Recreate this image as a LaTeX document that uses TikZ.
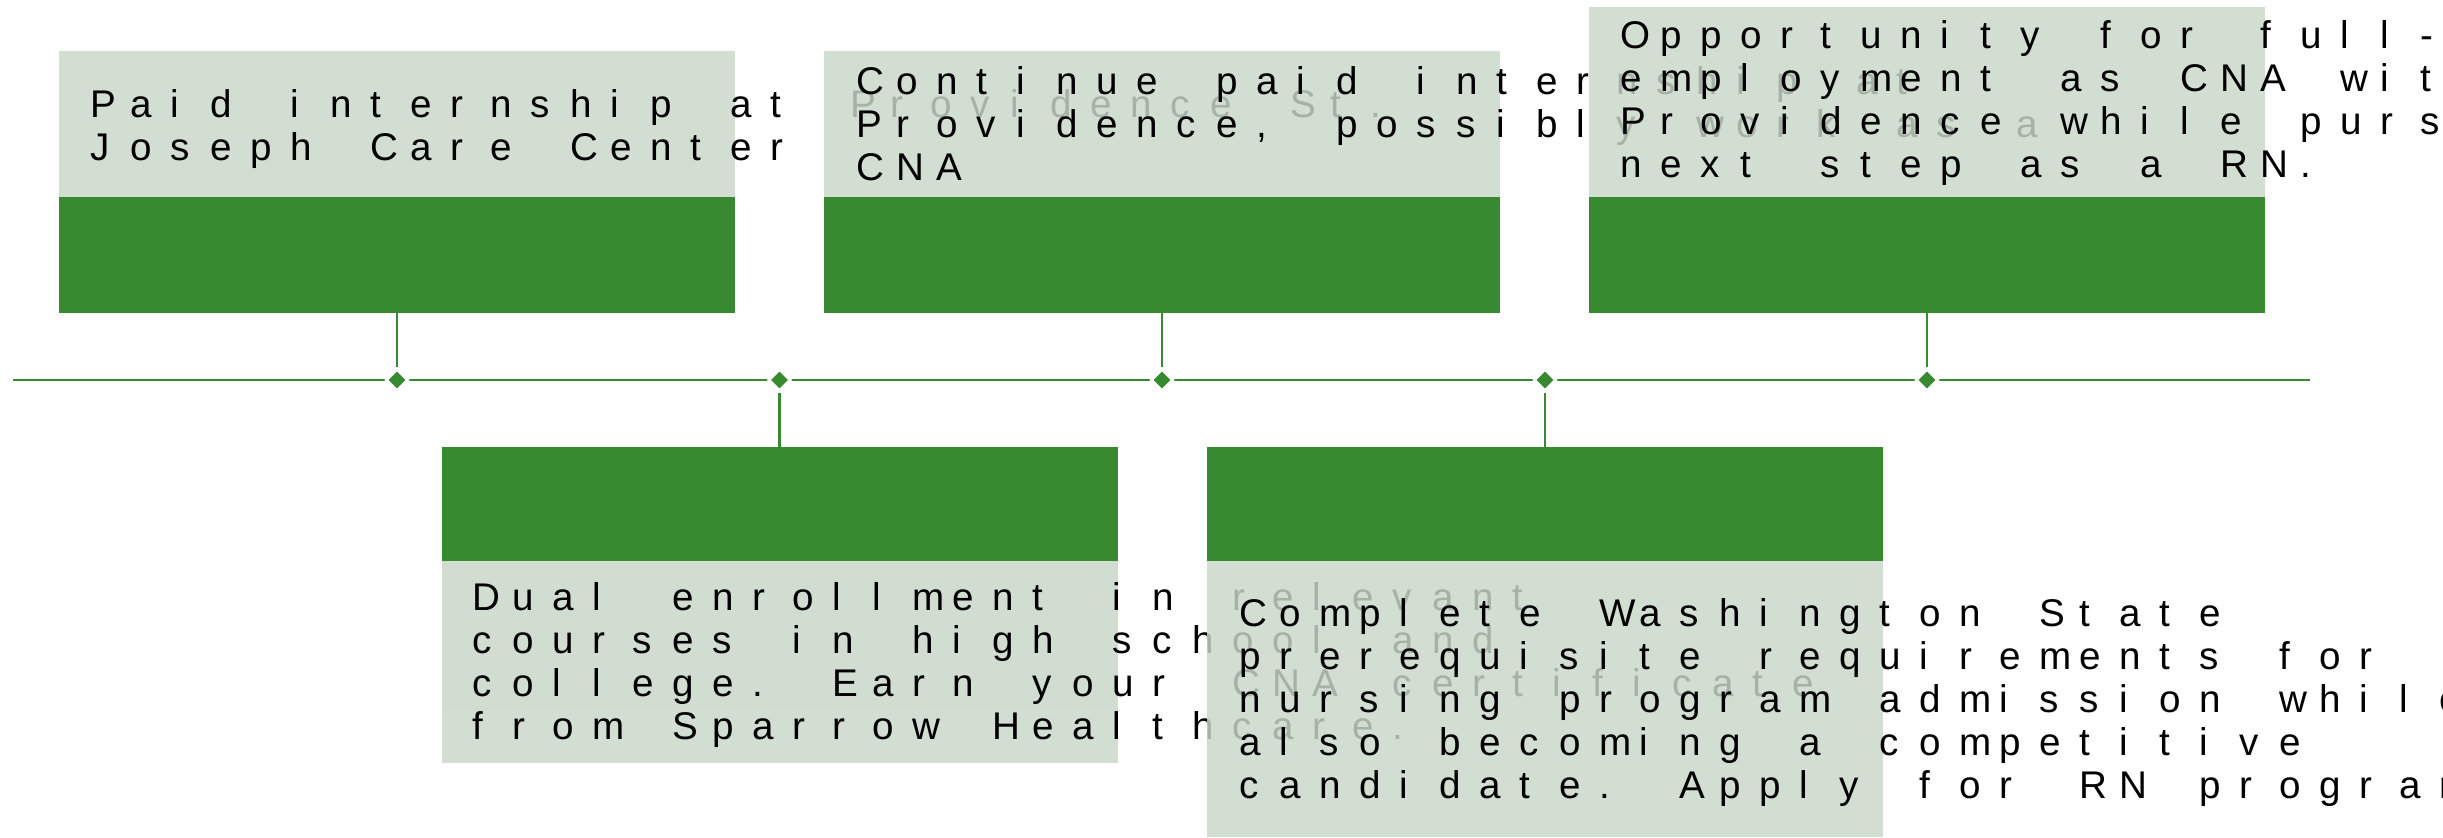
\documentclass[tikz,border=0pt]{standalone}
\usepackage{fontspec}
\usetikzlibrary{positioning,shapes.geometric}
\newfontfamily\stagefont{Liberation Sans}
\definecolor{tlgreen}{RGB}{56,138,48}
\definecolor{tllight}{RGB}{200,215,200}
% every letter and space takes one slot of the same width
\ExplSyntaxOn
\NewDocumentCommand\slots{m}{\str_map_inline:nn {#1} {\makebox[20pt][l]{##1}}}
\ExplSyntaxOff
\begin{document}
\begin{tikzpicture}[x=0.5pt, y=-0.5pt, node distance=0pt,
    head/.style = {fill=tlgreen, minimum width=338pt, minimum height=58pt, inner sep=0pt, outer sep=0pt},
    card/.style = {fill=tllight, fill opacity=0.83, minimum width=338pt, inner sep=0pt, outer sep=0pt},
    words/.style = {font=\stagefont\fontsize{19.3pt}{21.5pt}\selectfont, align=left, inner sep=0pt},
    dot/.style = {diamond, fill=tlgreen, draw=white, line width=1.4pt, minimum size=11.2pt, inner sep=0pt},
    link/.style = {draw=tlgreen, line width=1.25pt}]
\useasboundingbox (0,0) rectangle (2443,837);
\clip (0,0) rectangle (2443,837);
% green bars
\node[head] (h1) at (397,255) {};
\node[head] (h2) at (1162,255) {};
\node[head] (h3) at (1927,255) {};
\node[head, minimum height=57pt] (h4) at (779.5,504) {};
\node[head, minimum height=57pt] (h5) at (1545,504) {};
% text boxes, each one laid over the text before it
\node[card, minimum height=73pt] (c1) [above=of h1] {};
\node[words] (t1) [right=15.5pt of c1.west, yshift=-2.5pt] {\slots{Paid internship at Providence St.}\\\slots{Joseph Care Center}};
\node[card, minimum height=73pt] (c2) [above=of h2] {};
\node[words] (t2) [right=16pt of c2.west] {\slots{Continue paid internship at}\\\slots{Providence, possibly work as a}\\\slots{CNA}};
\node[card, minimum height=95pt] (c3) [above=of h3] {};
\node[words] (t3) [right=15.5pt of c3.west, yshift=-0.5pt] {\slots{Opportunity for full-time}\\\slots{employment as CNA with}\\\slots{Providence while pursuing}\\\slots{next step as a RN.}};
\node[card, minimum height=101pt] (c4) [below=of h4] {};
\fill[tllight, fill opacity=0.15] (c4.north west) rectangle ([yshift=-24pt]c4.east);
\node[words] (t4) [right=15.5pt of c4.west, yshift=-1.5pt] {\slots{Dual enrollment in relevant}\\\slots{courses in high school and}\\\slots{college. Earn your CNA certificate}\\\slots{from Sparrow Healthcare.}};
\node[card, minimum height=138pt] (c5) [below=of h5] {};
\node[words] (t5) [right=16pt of c5.west, yshift=-2pt] {\slots{Complete Washington State}\\\slots{prerequisite requirements for}\\\slots{nursing program admission while}\\\slots{also becoming a competitive}\\\slots{candidate. Apply for RN program}};
% timeline
\coordinate (tl0) at (13,380);
\coordinate (tl1) at (2310,380);
\draw[link] (tl0) -- (tl1);
\node[dot] (d1) at (397,380) {};
\node[dot] (d2) at (779.5,380) {};
\node[dot] (d3) at (1162,380) {};
\node[dot] (d4) at (1545,380) {};
\node[dot] (d5) at (1927,380) {};
\draw[link] (h1) -- (d1);
\draw[link] (d2) -- (h4);
\draw[link] (h2) -- (d3);
\draw[link] (d4) -- (h5);
\draw[link] (h3) -- (d5);
\end{tikzpicture}
\end{document}
